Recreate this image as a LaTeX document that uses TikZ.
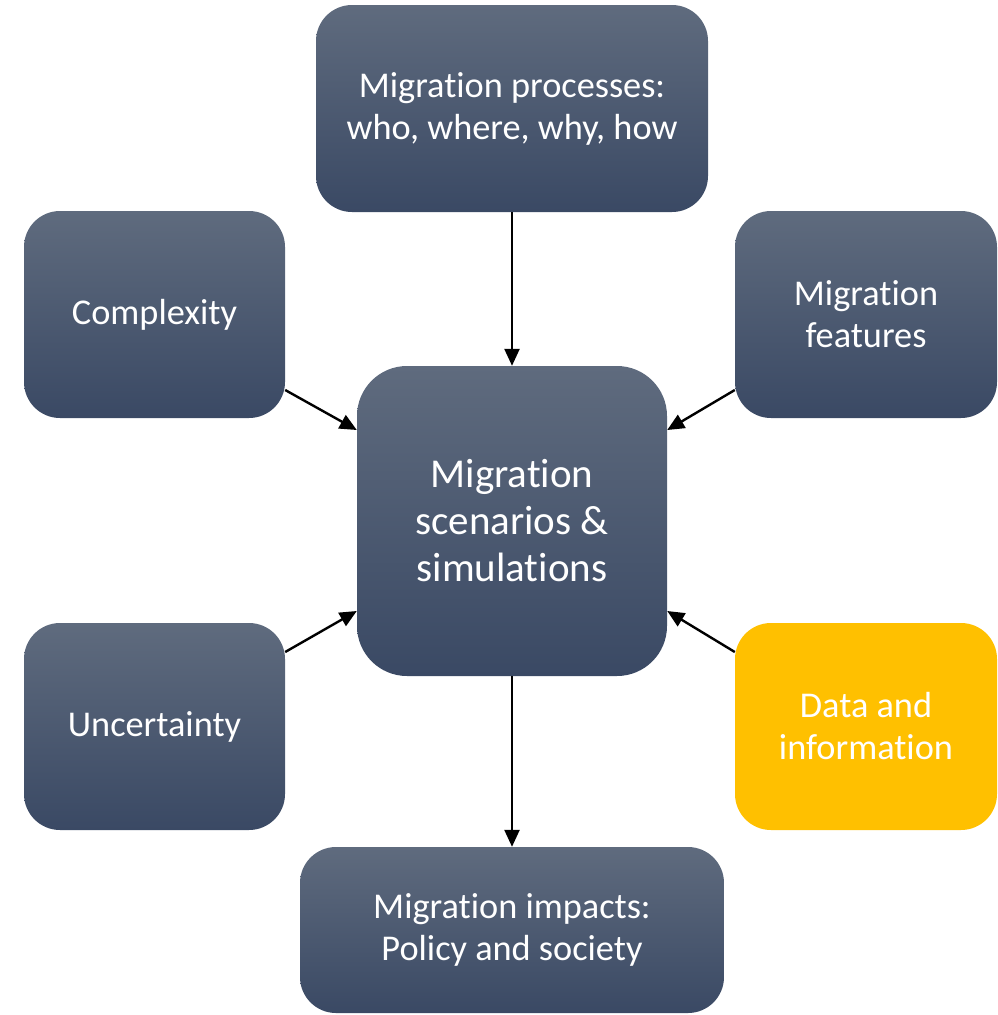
\documentclass[tikz,border=0pt]{standalone}
\usepackage{fontspec}
\setmainfont[RawFeature={-liga;-clig;-calt;-dlig}]{Carlito}
\usetikzlibrary{arrows.meta}
\definecolor{gtop}{HTML}{5F6B7E}
\definecolor{gbot}{HTML}{3A4964}
\definecolor{gold}{HTML}{FFC000}
\tikzset{
  box/.style={rounded corners=36pt, top color=gtop, bottom color=gbot, draw=none,
    text=white, align=center, inner sep=0pt, font=\fontsize{36.3}{42}\selectfont},
  goldbox/.style={rounded corners=36pt, fill=gold, draw=none,
    text=white, align=center, inner sep=0pt, font=\fontsize{36.3}{42}\selectfont},
  conn/.style={line width=2.4pt, -{Triangle[length=17pt,width=15pt]}}
}
\begin{document}
\begin{tikzpicture}[x=1pt,y=-1pt]
\useasboundingbox (0,0) rectangle (997,1015);
\node[box, minimum width=392pt, minimum height=207pt] (top) at (512,108.5) {Migration processes:\\who, where, why, how};
\node[box, minimum width=261pt, minimum height=207pt] (comp) at (154.5,314.5) {Complexity};
\node[box, minimum width=262pt, minimum height=207pt] (feat) at (866,314.5) {Migration\\features};
\node[box, rounded corners=50pt, minimum width=310pt, minimum height=310pt, font=\fontsize{41}{47}\selectfont] (mid) at (512,521) {Migration\\scenarios \&\\simulations};
\node[box, minimum width=261pt, minimum height=207pt] (unc) at (154.5,726.5) {Uncertainty};
\node[goldbox, minimum width=262pt, minimum height=207pt] (data) at (866,726.5) {Data and\\information};
\node[box, minimum width=424pt, minimum height=166pt] (bot) at (512,930) {Migration impacts:\\Policy and society};
\draw[conn] (top.south) -- (mid.north);
\draw[conn] ([yshift=-75.5pt]comp.east) -- ([yshift=91pt]mid.west);
\draw[conn] ([yshift=-75.5pt]feat.west) -- ([yshift=91pt]mid.east);
\draw[conn] ([yshift=74.5pt]unc.east) -- ([yshift=-90pt]mid.west);
\draw[conn] ([yshift=74.5pt]data.west) -- ([yshift=-90pt]mid.east);
\draw[conn] (mid.south) -- (bot.north);
\end{tikzpicture}
\end{document}
